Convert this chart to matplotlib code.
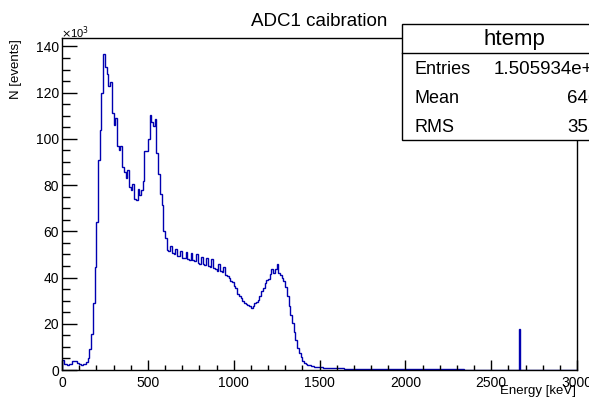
#!/usr/bin/env python3
"""
plot.py
ROOT-style histogram of the ADC1 calibration spectrum -> out.png
"""
import numpy as np
import matplotlib
matplotlib.use("Agg")
import matplotlib.pyplot as plt
from matplotlib.patches import Rectangle
from matplotlib.lines import Line2D
from matplotlib.ticker import MultipleLocator

plt.rcParams['font.family'] = ['Liberation Sans', 'DejaVu Sans']

# histogram: 10 keV bins from 0 to 3000 keV, counts in thousands
bin_width = 10
x_max = 3000
counts_0_590 = [
    4.5, 2.5, 2.4, 2.3, 2.5, 2.6, 3.8, 4.0, 3.9, 3.0,
    2.4, 2.3, 2.4, 2.8, 3.6, 5.0, 9.0, 15.5, 29, 44.5,
    64, 91, 104, 120, 136.7, 131, 128, 123, 124.6, 111,
    106, 109, 97, 95, 97, 88, 85.7, 83, 86.5, 79,
    78, 80.7, 74, 73.5, 78.5, 75.6, 77.7, 82, 94.8, 94.8,
    100, 110.5, 107.5, 105.6, 108.5, 93.8, 84.7, 76, 71.4, 60,
]
counts_600_1490 = [
    57, 52, 51.5, 53.5, 50.5, 50, 52.5, 49.5, 49.5, 51.5,
    48.5, 48.5, 51, 48, 47.5, 50.5, 47.5, 47, 50, 46.5,
    46, 49, 46, 45.5, 48.5, 45, 44.5, 48, 44, 43.5,
    43, 46, 43, 42.5, 44.5, 41, 40.5, 40, 38.5, 38,
    36.5, 35.5, 33, 32, 31, 30, 29, 28.5, 28, 27.5,
    27, 27.5, 29, 29.5, 30.5, 32, 34, 35.5, 37.5, 39,
    39.5, 41.5, 43.5, 42, 43.5, 46, 42, 41, 40, 38.5,
    36, 32, 27.5, 24, 20.5, 16.5, 13, 9.5, 7.5, 5.5,
    4, 3, 2.5, 2.2, 2, 1.8, 1.6, 1.5, 1.4, 1.3,
]
counts_1500_2990 = [
    1.2, 1.1, 1.05, 1.0, 0.95, 0.9, 0.86, 0.82, 0.79, 0.76,
    0.73, 0.7, 0.68, 0.66, 0.64, 0.62, 0.6, 0.58, 0.57, 0.55,
    0.54, 0.52, 0.51, 0.5, 0.49, 0.48, 0.47, 0.46, 0.45, 0.44,
    0.43, 0.42, 0.42, 0.41, 0.4, 0.39, 0.39, 0.38, 0.37, 0.37,
    0.36, 0.36, 0.35, 0.35, 0.34, 0.34, 0.33, 0.33, 0.32, 0.32,
    0.31, 0.31, 0.3, 0.3, 0.3, 0.29, 0.29, 0.29, 0.28, 0.28,
    0.28, 0.27, 0.27, 0.27, 0.26, 0.26, 0.26, 0.25, 0.25, 0.25,
    0.25, 0.24, 0.24, 0.24, 0.24, 0.23, 0.23, 0.23, 0.23, 0.22,
    0.22, 0.22, 0.22, 0.22, 0.21, 0.21, 0.21, 0.21, 0.21, 0.2,
    0.2, 0.2, 0.2, 0.2, 0.2, 0.19, 0.19, 0.19, 0.19, 0.19,
    0.19, 0.18, 0.18, 0.18, 0.18, 0.18, 0.18, 0.17, 0.17, 0.17,
    0.17, 0.17, 0.17, 0.16, 0.16, 0.16, 17.7, 0.15, 0.14, 0.13,
    0.12, 0.12, 0.11, 0.11, 0.1, 0.1, 0.1, 0.09, 0.09, 0.09,
    0.09, 0.08, 0.08, 0.08, 0.08, 0.08, 0.07, 0.07, 0.07, 0.07,
    0.07, 0.06, 0.06, 0.06, 0.06, 0.06, 0.05, 0.05, 0.05, 0.05,
]

x_ticks = [0, 500, 1000, 1500, 2000, 2500, 3000]
y_ticks = [0, 20, 40, 60, 80, 100, 120, 140]

stats_name = "htemp"
stats_labels = ["Entries", "Mean", "RMS"]
stats_values = ["1.505934e+06", "646.3", "355.1"]

W, H = 589, 403


def fx(px):
    return px / W


def fy(py):
    return 1 - py / H


counts = np.array(counts_0_590 + counts_600_1490 + counts_1500_2990)
edges = np.arange(0, x_max + bin_width, bin_width)

fig = plt.figure(figsize=(W / 100, H / 100), dpi=100)
ax = fig.add_axes([fx(62), fy(370), fx(577) - fx(62), fy(38.3) - fy(370)])

ax.stairs(counts, edges, color='#0000b0', linewidth=1.0)
ax.set_xlim(0, x_max)
ax.set_ylim(0, 1.05 * counts.max())

ax.set_xticks(x_ticks)
ax.set_xticklabels([str(t) for t in x_ticks])
ax.set_yticks(y_ticks)
ax.set_yticklabels([str(t) for t in y_ticks])
ax.xaxis.set_minor_locator(MultipleLocator(100))
ax.yaxis.set_minor_locator(MultipleLocator(5))
ax.tick_params(axis='x', which='major', direction='in', length=7, width=1, labelsize=10, pad=4)
ax.tick_params(axis='x', which='minor', direction='in', length=3.5, width=1)
ax.tick_params(axis='y', which='major', direction='in', length=11, width=1, labelsize=10, pad=2)
ax.tick_params(axis='y', which='minor', direction='in', length=5.5, width=1)
for s in ax.spines.values():
    s.set_linewidth(1)

# axis titles, ROOT puts them at the far end of the axis
fig.text(fx(576), fy(391), "Energy [keV]", ha='right', va='center', fontsize=9.5)
fig.text(fx(16), fy(39), "N [events]", ha='center', va='top', rotation=90, fontsize=9.5)
fig.text(fx(61), fy(33), r"$\times$10$^{3}$", ha='left', va='center', fontsize=8)

# title
fig.text(fx(319), fy(21), "ADC1 caibration", ha='center', va='center', fontsize=13.5)

# stats box, runs past the right edge of the canvas
box = Rectangle((fx(402), fy(140)), fx(626) - fx(402), fy(24) - fy(140),
                transform=fig.transFigure, facecolor='white', edgecolor='black',
                linewidth=1, zorder=5)
fig.add_artist(box)
fig.add_artist(Line2D([fx(402), fx(626)], [fy(52.7), fy(52.7)],
                      transform=fig.transFigure, color='black', linewidth=1, zorder=6))
fig.text(fx(514), fy(39), stats_name, ha='center', va='center', fontsize=16, zorder=7)
for i, (lab, val) in enumerate(zip(stats_labels, stats_values)):
    yy = 70 + i * 28.5
    fig.text(fx(415), fy(yy), lab, ha='left', va='center', fontsize=13, zorder=7)
    fig.text(fx(614), fy(yy), val, ha='right', va='center', fontsize=13.5, zorder=7)

fig.savefig("out.png", dpi=100)
print("Saved out.png")
